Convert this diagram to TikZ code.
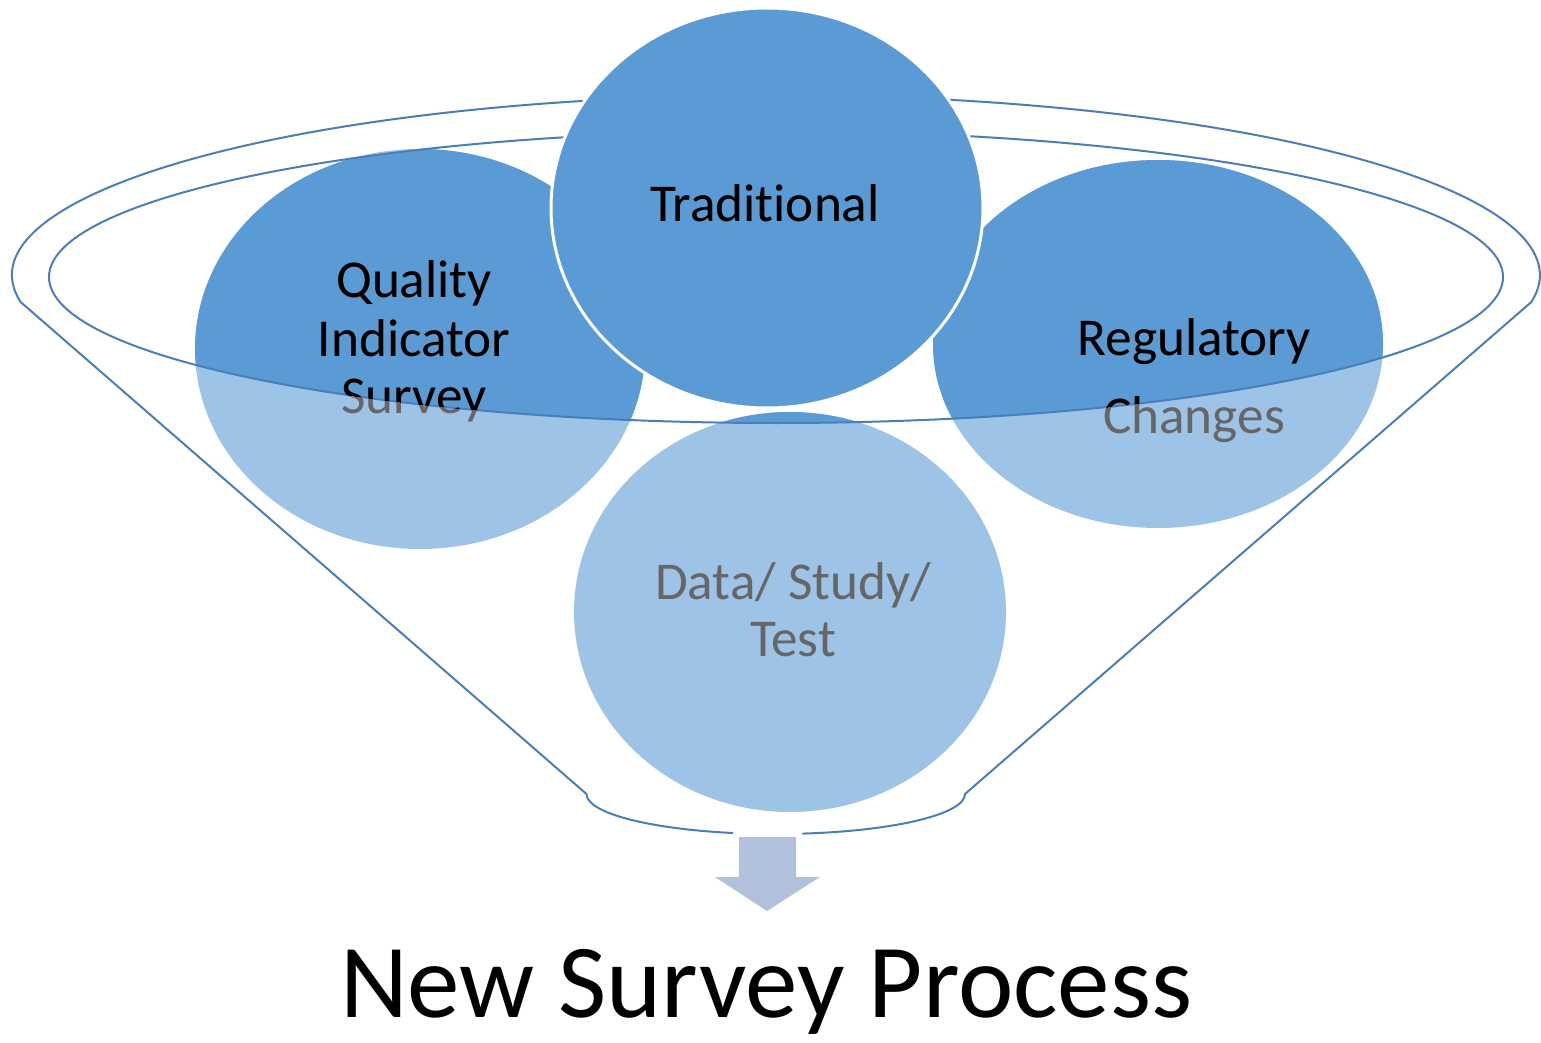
\documentclass[tikz,border=0pt]{standalone}
\usepackage{fontspec}
\setmainfont{Carlito}[Ligatures=NoCommon]
\usetikzlibrary{calc}

\definecolor{bubbledark}{HTML}{5B9BD5}
\definecolor{bubblelight}{HTML}{9DC3E6}
\definecolor{funnelline}{HTML}{4A7EBB}
\definecolor{arrowfill}{HTML}{B1C1DD}
\definecolor{fadedtext}{HTML}{666666}

\tikzset{
  funnel/.style={draw=funnelline, line width=1pt, line join=round},
  bubbletext/.style={anchor=base, inner sep=0pt, font=\fontsize{26.6}{32}\selectfont},
}

\newcommand\bubblelabels[1]{%
  \node[bubbletext, text=#1] (qis1) at (414,298) {Quality};
  \node[bubbletext, text=#1] (qis2) at (414,356) {Indicator};
  \node[bubbletext, text=#1] (qis3) at (414,413) {Survey};
  \node[bubbletext, text=#1] (trad) at (765,222) {Traditional};
  \node[bubbletext, text=#1] (reg1) at (1194,355) {Regulatory};
  \node[bubbletext, text=#1] (reg2) at (1194,433) {Changes};
  \node[bubbletext, text=#1] (dst1) at (793,599) {Data/ Study/};
  \node[bubbletext, text=#1] (dst2) at (793,656) {Test};
}

\begin{document}
\begin{tikzpicture}[x=0.5pt,y=-0.5pt]
  \useasboundingbox (0,0) rectangle (1541,1043);

  % centres
  \coordinate (qis) at (420,349);
  \coordinate (tradc) at (767,208);
  \coordinate (reg) at (1158,344);
  \coordinate (dst) at (790,612);
  \coordinate (rim) at (776,277);

  % bubbles, pale below the rim
  \fill[bubblelight] (qis) ellipse [x radius=225, y radius=200];
  \fill[bubblelight] (reg) ellipse [x radius=225, y radius=184];
  \fill[bubblelight] (dst) ellipse [x radius=216, y radius=200];
  \begin{scope}
    \clip (rim) ellipse [x radius=727, y radius=146];
    \fill[bubbledark] (qis) ellipse [x radius=225, y radius=200];
    \fill[bubbledark] (reg) ellipse [x radius=225, y radius=184];
    \fill[bubbledark] (dst) ellipse [x radius=216, y radius=200];
  \end{scope}

  % funnel
  \draw[funnel] (rim) ellipse [x radius=727, y radius=146];
  \draw[funnel] (733,833) arc [start angle=103, end angle=180, x radius=189, y radius=40]
    -- (20.6,302) arc [start angle=171.4, end angle=368.6, x radius=764, y radius=180]
    -- (965,794) arc [start angle=0, end angle=82, x radius=189, y radius=40];

  \draw[white, line width=1.5pt, fill=bubbledark] (tradc) ellipse [x radius=216, y radius=200];

  % labels, black inside the rim
  \bubblelabels{fadedtext}
  \begin{scope}
    \clip (rim) ellipse [x radius=727, y radius=146];
    \bubblelabels{black}
  \end{scope}

  % arrow out of the funnel
  \fill[arrowfill] (739,837) -- (796,837) -- (796,877) -- (820,877) -- (767,911)
    -- (715,877) -- (739,877) -- cycle;

  \node[anchor=base, inner sep=0pt, font=\fontsize{52.5}{60}\selectfont] (result) at (766,1017) {New Survey Process};
\end{tikzpicture}
\end{document}
